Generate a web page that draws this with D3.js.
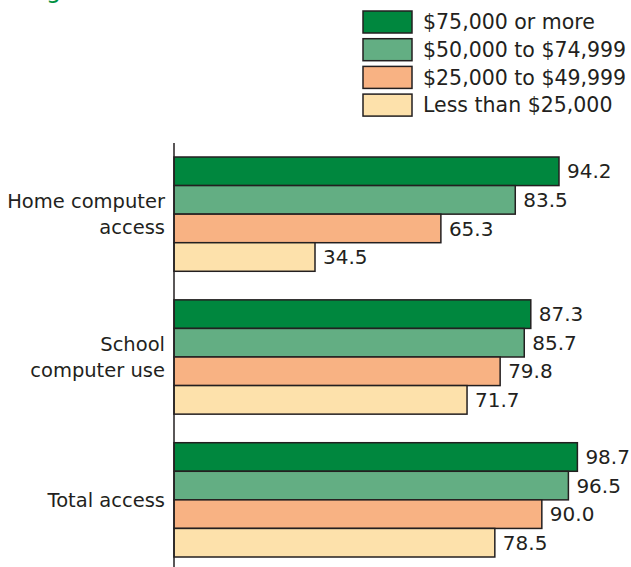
<!DOCTYPE html>
<html>
<head>
<meta charset="utf-8">
<script src="https://cdn.jsdelivr.net/npm/d3@7"></script>
<style>
  body { margin: 0; background: #fff; }
  svg { display: block; }
  text { font-family: "DejaVu Sans", sans-serif; fill: #231f20; }
</style>
</head>
<body>
<svg width="631" height="567"></svg>
<script>
var categories = [['Home computer', 'access'], ['School', 'computer use'], ['Total access']];
var series = ['$75,000 or more', '$50,000 to $74,999', '$25,000 to $49,999', 'Less than $25,000'];
var colors = ['#00873e', '#63ae83', '#f8b283', '#fde1ab'];
var values = [
    [94.2, 83.5, 65.3, 34.5],
    [87.3, 85.7, 79.8, 71.7],
    [98.7, 96.5, 90.0, 78.5]
];

var svg = d3.select('svg');

// title sits above the frame in the source, only the descender of a "g" shows
svg.append('text')
    .attr('x', 46)
    .attr('y', -2.5)
    .style('font-size', '24px')
    .style('fill', '#00913f')
    .text('g');

var x = d3.scaleLinear().domain([0, 100]).range([174, 582.7]);
var y0 = d3.scaleBand().domain(d3.range(categories.length)).range([157, 557]).paddingInner(0.2);
var y1 = d3.scaleBand().domain(d3.range(series.length)).range([0, y0.bandwidth()]);

var groups = svg.selectAll('.group')
    .data(values)
    .enter()
    .append('g')
    .attr('class', 'group')
    .attr('transform', function(d, i) { return 'translate(0,' + y0(i) + ')'; });

groups.selectAll('rect')
    .data(function(d) { return d; })
    .enter()
    .append('rect')
    .attr('x', x(0))
    .attr('y', function(d, i) { return y1(i); })
    .attr('width', function(d) { return x(d) - x(0); })
    .attr('height', y1.bandwidth())
    .style('fill', function(d, i) { return colors[i]; })
    .style('stroke', '#231f20')
    .style('stroke-width', 1.5);

groups.selectAll('.val')
    .data(function(d) { return d; })
    .enter()
    .append('text')
    .attr('class', 'val')
    .attr('x', function(d) { return x(d) + 8; })
    .attr('y', function(d, i) { return y1(i) + y1.bandwidth() / 2; })
    .attr('dy', '0.36em')
    .style('font-size', '20px')
    .text(function(d) { return d.toFixed(1); });

// category labels
groups.each(function(d, i) {
    var lines = categories[i];
    var t = d3.select(this).append('text')
        .attr('text-anchor', 'end')
        .style('font-size', '19.5px');
    lines.forEach(function(line, j) {
        t.append('tspan')
            .attr('x', 165)
            .attr('y', y0.bandwidth() / 2 + (j - (lines.length - 1) / 2) * 26)
            .attr('dy', '0.36em')
            .text(line);
    });
});

// axis line
svg.append('line')
    .attr('x1', x(0)).attr('x2', x(0))
    .attr('y1', 143).attr('y2', 567)
    .style('stroke', '#231f20')
    .style('stroke-width', 1.5);

// legend
var legend = svg.selectAll('.legend')
    .data(series)
    .enter()
    .append('g')
    .attr('class', 'legend')
    .attr('transform', function(d, i) { return 'translate(363,' + (11 + i * 27.7) + ')'; });

legend.append('rect')
    .attr('width', 49)
    .attr('height', 22)
    .style('fill', function(d, i) { return colors[i]; })
    .style('stroke', '#231f20')
    .style('stroke-width', 1.5);

legend.append('text')
    .attr('x', 60)
    .attr('y', 11)
    .attr('dy', '0.36em')
    .style('font-size', '20.5px')
    .text(function(d) { return d; });
</script>
</body>
</html>
